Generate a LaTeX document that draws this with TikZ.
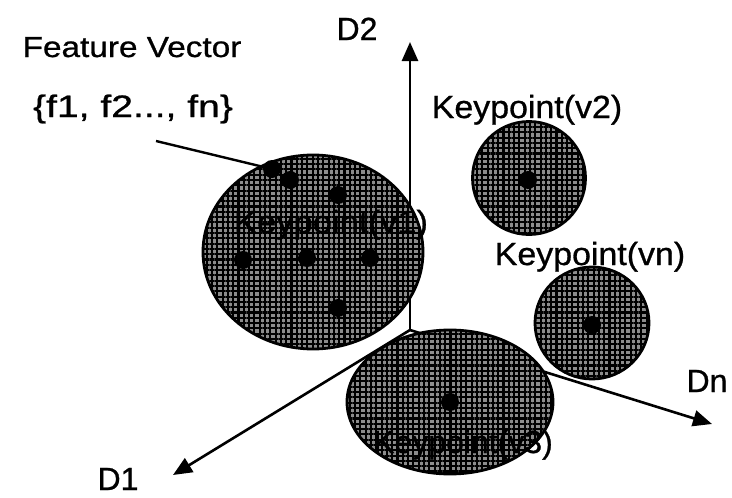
\documentclass[tikz,border=0pt]{standalone}
\usepackage{fontspec}
\setmainfont{Liberation Sans}[FakeBold=0.8]
\usetikzlibrary{arrows.meta,shapes.geometric,patterns.meta}
\definecolor{screen}{gray}{0.55}
\tikzset{
  axis/.style={line width=2.6pt, -{Triangle[length=19pt,width=16pt]}},
  kp/.style={ellipse, draw, line width=2.8pt, inner sep=0pt,
    preaction={fill=screen},
    pattern={Hatch[distance=5.3pt,line width=2.1pt]}, pattern color=black},
  kpdot/.style={circle, fill=black, inner sep=0pt, minimum size=18pt},
  kplabel/.style={anchor=base, inner sep=0pt, font=\fontsize{32}{38}\selectfont},
  axlabel/.style={anchor=base, inner sep=0pt, font=\fontsize{32}{38}\selectfont},
  fvlabel/.style={anchor=base, inner sep=0pt}
}
\begin{document}
\begin{tikzpicture}[x=1pt,y=-1pt]
\useasboundingbox (0,0) rectangle (732,498);

% axes of the feature space
\coordinate (O) at (410,330);
\coordinate (d2tip) at (410,42);
\coordinate (d1tip) at (173,475);
\coordinate (dntip) at (712,424);
\draw[axis] (O) -- (d2tip);
\draw[axis] (O) -- (d1tip);
\draw[axis] (O) -- (dntip);

\node[axlabel] (d2) at (357,40) {D2};
\node[axlabel] (d1) at (118,490) {D1};
\node[axlabel] (dn) at (707,392) {Dn};

% keypoint regions
\node[kp, minimum width=220pt, minimum height=194pt] (v1) at (313,252) {};
\node[kp, minimum width=206pt, minimum height=144pt] (v3) at (450,402) {};
\node[kp, minimum width=113pt, minimum height=113pt] (v2) at (529,178) {};
\node[kp, minimum width=114pt, minimum height=112pt] (vn) at (592,323) {};

% feature points
\node[kpdot] (p1) at (272,169) {};
\node[kpdot] (p2) at (290,180) {};
\node[kpdot] (p3) at (338,195) {};
\node[kpdot] (p4) at (243,260) {};
\node[kpdot] (p5) at (307,258) {};
\node[kpdot] (p6) at (370,258) {};
\node[kpdot] (p7) at (338,308) {};
\node[kpdot] (q2) at (528,180) {};
\node[kpdot] (qn) at (592,325) {};
\node[kpdot] (q3) at (450,402) {};

% labels
\node[kplabel] (l1) at (331,233) {\scalebox{1.08}[1]{Keypoint(v1)}};
\node[kplabel] (l3) at (463,453) {\scalebox{1.0}[1]{Keypoint(v3)}};
\node[kplabel] (l2) at (527,118) {\scalebox{1.06}[1]{Keypoint(v2)}};
\node[kplabel] (ln) at (590,265) {\scalebox{1.06}[1]{Keypoint(vn)}};

\node[fvlabel, font=\fontsize{29}{34}\selectfont] (fv) at (132,57) {\scalebox{1.15}[1]{Feature Vector}};
\node[fvlabel, font=\fontsize{31}{36}\selectfont] (fset) at (133,117) {\scalebox{1.26}[1]{\{f1, f2..., fn\}}};

% leader from the feature set to one point
\coordinate (lead) at (156,141);
\draw[line width=2.4pt] (lead) -- (p1.center);
\end{tikzpicture}
\end{document}
